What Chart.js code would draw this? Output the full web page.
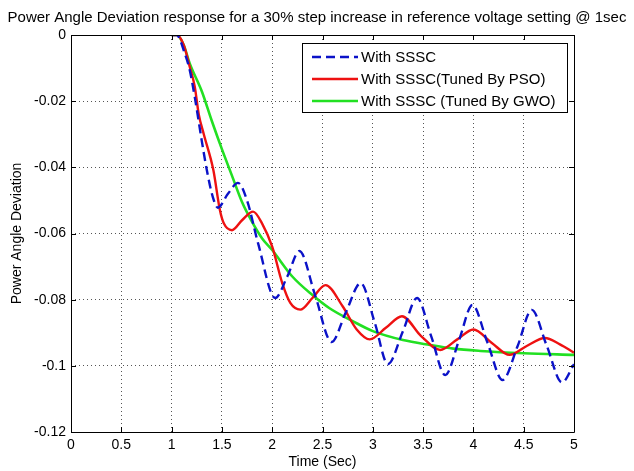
<!DOCTYPE html>
<html>
<head>
<meta charset="utf-8">
<script src="https://cdn.jsdelivr.net/npm/chart.js@4"></script>
<style>
  body { margin: 0; background: #fff; }
</style>
</head>
<body>
<canvas id="chart" width="634" height="471"></canvas>
<script>
// Dane (czas w sekundach, odchylenie kąta mocy)
const blueTime = [1.0, 1.05, 1.13, 1.18, 1.23, 1.3, 1.35, 1.41, 1.46, 1.56, 1.66, 1.75, 1.86, 2.03, 2.15, 2.27, 2.43, 2.59, 2.73, 2.88, 3.02, 3.15, 3.3, 3.44, 3.58, 3.72, 3.86, 3.99, 4.14, 4.29, 4.44, 4.58, 4.73, 4.88, 5.0];
const blueValue = [0, 0, -0.0055, -0.0106, -0.0187, -0.032, -0.0408, -0.049, -0.0522, -0.048, -0.0447, -0.05, -0.063, -0.0795, -0.073, -0.0653, -0.079, -0.0928, -0.084, -0.075, -0.087, -0.0995, -0.0895, -0.0795, -0.091, -0.1028, -0.092, -0.0816, -0.093, -0.1043, -0.094, -0.0831, -0.094, -0.105, -0.0995];

const redTime = [1.0, 1.05, 1.12, 1.18, 1.23, 1.27, 1.32, 1.415, 1.48, 1.52, 1.6, 1.7, 1.81, 1.9, 2.0, 2.1, 2.18, 2.28, 2.4, 2.53, 2.7, 2.84, 2.97, 3.13, 3.29, 3.48, 3.67, 3.84, 4.0, 4.18, 4.36, 4.53, 4.71, 4.86, 5.0];
const redValue = [0, 0, -0.003, -0.0096, -0.0156, -0.024, -0.03, -0.0408, -0.0529, -0.057, -0.059, -0.056, -0.0534, -0.057, -0.064, -0.075, -0.081, -0.083, -0.0795, -0.0756, -0.082, -0.089, -0.092, -0.0885, -0.085, -0.091, -0.0952, -0.092, -0.089, -0.093, -0.0967, -0.094, -0.0916, -0.0935, -0.096];

const greenTime = [1.0, 1.05, 1.12, 1.18, 1.3, 1.4, 1.5, 1.6, 1.7, 1.8, 1.9, 2.0, 2.2, 2.4, 2.57, 2.8, 3.0, 3.3, 3.57, 3.8, 4.07, 4.5, 5.0];
const greenValue = [0, 0, -0.003, -0.0086, -0.017, -0.026, -0.0345, -0.0425, -0.0505, -0.0565, -0.0615, -0.065, -0.073, -0.0786, -0.0826, -0.0865, -0.0895, -0.0922, -0.0937, -0.0948, -0.0955, -0.0962, -0.0967];

const seriesLabels = ["With SSSC", "With SSSC(Tuned By PSO)", "With SSSC (Tuned By GWO)"];
const xTicks = [0, 0.5, 1, 1.5, 2, 2.5, 3, 3.5, 4, 4.5, 5];
const yTicks = [0, -0.02, -0.04, -0.06, -0.08, -0.1, -0.12];

const FONT = "'Liberation Sans', Arial, sans-serif";

function toPoints(xs, ys) {
    return xs.map((x, i) => ({ x: x, y: ys[i] }));
}

// Ramka w stylu MATLAB z krótkimi znacznikami do wewnątrz + legenda w środku wykresu
const matlabBox = {
    id: "matlabBox",
    afterDraw(chart) {
        const ctx = chart.ctx;
        const a = chart.chartArea;
        const xs = chart.scales.x;
        const ys = chart.scales.y;
        ctx.save();
        ctx.strokeStyle = "#000";
        ctx.lineWidth = 1;
        ctx.beginPath();
        ctx.rect(Math.round(a.left) + 0.5, Math.round(a.top) + 0.5,
            Math.round(a.right - a.left), Math.round(a.bottom - a.top));
        xTicks.forEach(v => {
            const px = Math.round(xs.getPixelForValue(v)) + 0.5;
            ctx.moveTo(px, a.bottom); ctx.lineTo(px, a.bottom - 5);
            ctx.moveTo(px, a.top); ctx.lineTo(px, a.top + 5);
        });
        yTicks.forEach(v => {
            const py = Math.round(ys.getPixelForValue(v)) + 0.5;
            ctx.moveTo(a.left, py); ctx.lineTo(a.left + 5, py);
            ctx.moveTo(a.right, py); ctx.lineTo(a.right - 5, py);
        });
        ctx.stroke();

        // legenda
        const bx = 302.5, by = 43.5, bw = 265, bh = 69;
        ctx.fillStyle = "#fff";
        ctx.fillRect(bx, by, bw, bh);
        ctx.strokeRect(bx, by, bw, bh);
        ctx.font = "15px " + FONT;
        ctx.textBaseline = "middle";
        chart.data.datasets.forEach((ds, i) => {
            const ry = 57 + i * 22;
            ctx.strokeStyle = ds.borderColor;
            ctx.lineWidth = ds.borderWidth;
            ctx.setLineDash(ds.borderDash || []);
            ctx.beginPath();
            ctx.moveTo(312, ry);
            ctx.lineTo(358, ry);
            ctx.stroke();
            ctx.setLineDash([]);
            ctx.fillStyle = "#000";
            ctx.fillText(ds.label, 361, ry + 1);
        });
        ctx.restore();
    }
};

const ctx = document.getElementById("chart").getContext("2d");
const chart = new Chart(ctx, {
    type: "line",
    data: {
        datasets: [
            {
                label: seriesLabels[0],
                data: toPoints(blueTime, blueValue),
                borderColor: "#0b12c8",
                borderWidth: 2.4,
                borderDash: [9, 5],
            },
            {
                label: seriesLabels[1],
                data: toPoints(redTime, redValue),
                borderColor: "#ee1111",
                borderWidth: 2.4,
            },
            {
                label: seriesLabels[2],
                data: toPoints(greenTime, greenValue),
                borderColor: "#22e022",
                borderWidth: 2.6,
            },
        ],
    },
    options: {
        responsive: false,
        animation: false,
        events: [],
        elements: {
            point: { radius: 0 },
            line: { cubicInterpolationMode: "monotone", fill: false },
        },
        layout: { padding: 0 },
        plugins: {
            legend: { display: false },
            tooltip: { enabled: false },
            title: {
                display: true,
                text: "Power Angle Deviation response for a 30% step increase in reference voltage setting @ 1sec",
                color: "#000",
                font: { family: FONT, size: 15, weight: "normal", lineHeight: 1.2 },
                padding: { top: 9, bottom: 8 },
            },
        },
        scales: {
            x: {
                type: "linear",
                min: 0,
                max: 5,
                afterBuildTicks: s => { s.ticks = xTicks.map(v => ({ value: v })); },
                afterFit: s => { s.height = 39; },
                ticks: {
                    color: "#000",
                    font: { family: FONT, size: 14 },
                    padding: 5,
                    maxRotation: 0,
                    callback: v => String(v),
                },
                grid: { color: "#555", drawTicks: false },
                border: { display: false, dash: [1, 3] },
                title: {
                    display: true,
                    text: "Time (Sec)",
                    color: "#000",
                    font: { family: FONT, size: 14 },
                    padding: { top: 0, bottom: 0 },
                },
            },
            y: {
                type: "linear",
                min: -0.12,
                max: 0,
                afterBuildTicks: s => { s.ticks = yTicks.map(v => ({ value: v })); },
                afterFit: s => { s.width = 71; },
                ticks: {
                    color: "#000",
                    font: { family: FONT, size: 14 },
                    padding: 5,
                    callback: v => String(Number(v.toFixed(2))),
                },
                grid: { color: "#555", drawTicks: false },
                border: { display: false, dash: [1, 3] },
                title: {
                    display: true,
                    text: "Power Angle Deviation",
                    color: "#000",
                    font: { family: FONT, size: 14 },
                    padding: { top: 9, bottom: 0 },
                },
            },
            // pusta oś po prawej - tylko margines, żeby tytuł był wyśrodkowany na całym płótnie
            yRight: {
                type: "linear",
                position: "right",
                min: -0.12,
                max: 0,
                afterFit: s => { s.width = 60; },
                ticks: { display: false },
                grid: { display: false },
                border: { display: false },
            },
        },
    },
    plugins: [matlabBox],
});
</script>
</body>
</html>
